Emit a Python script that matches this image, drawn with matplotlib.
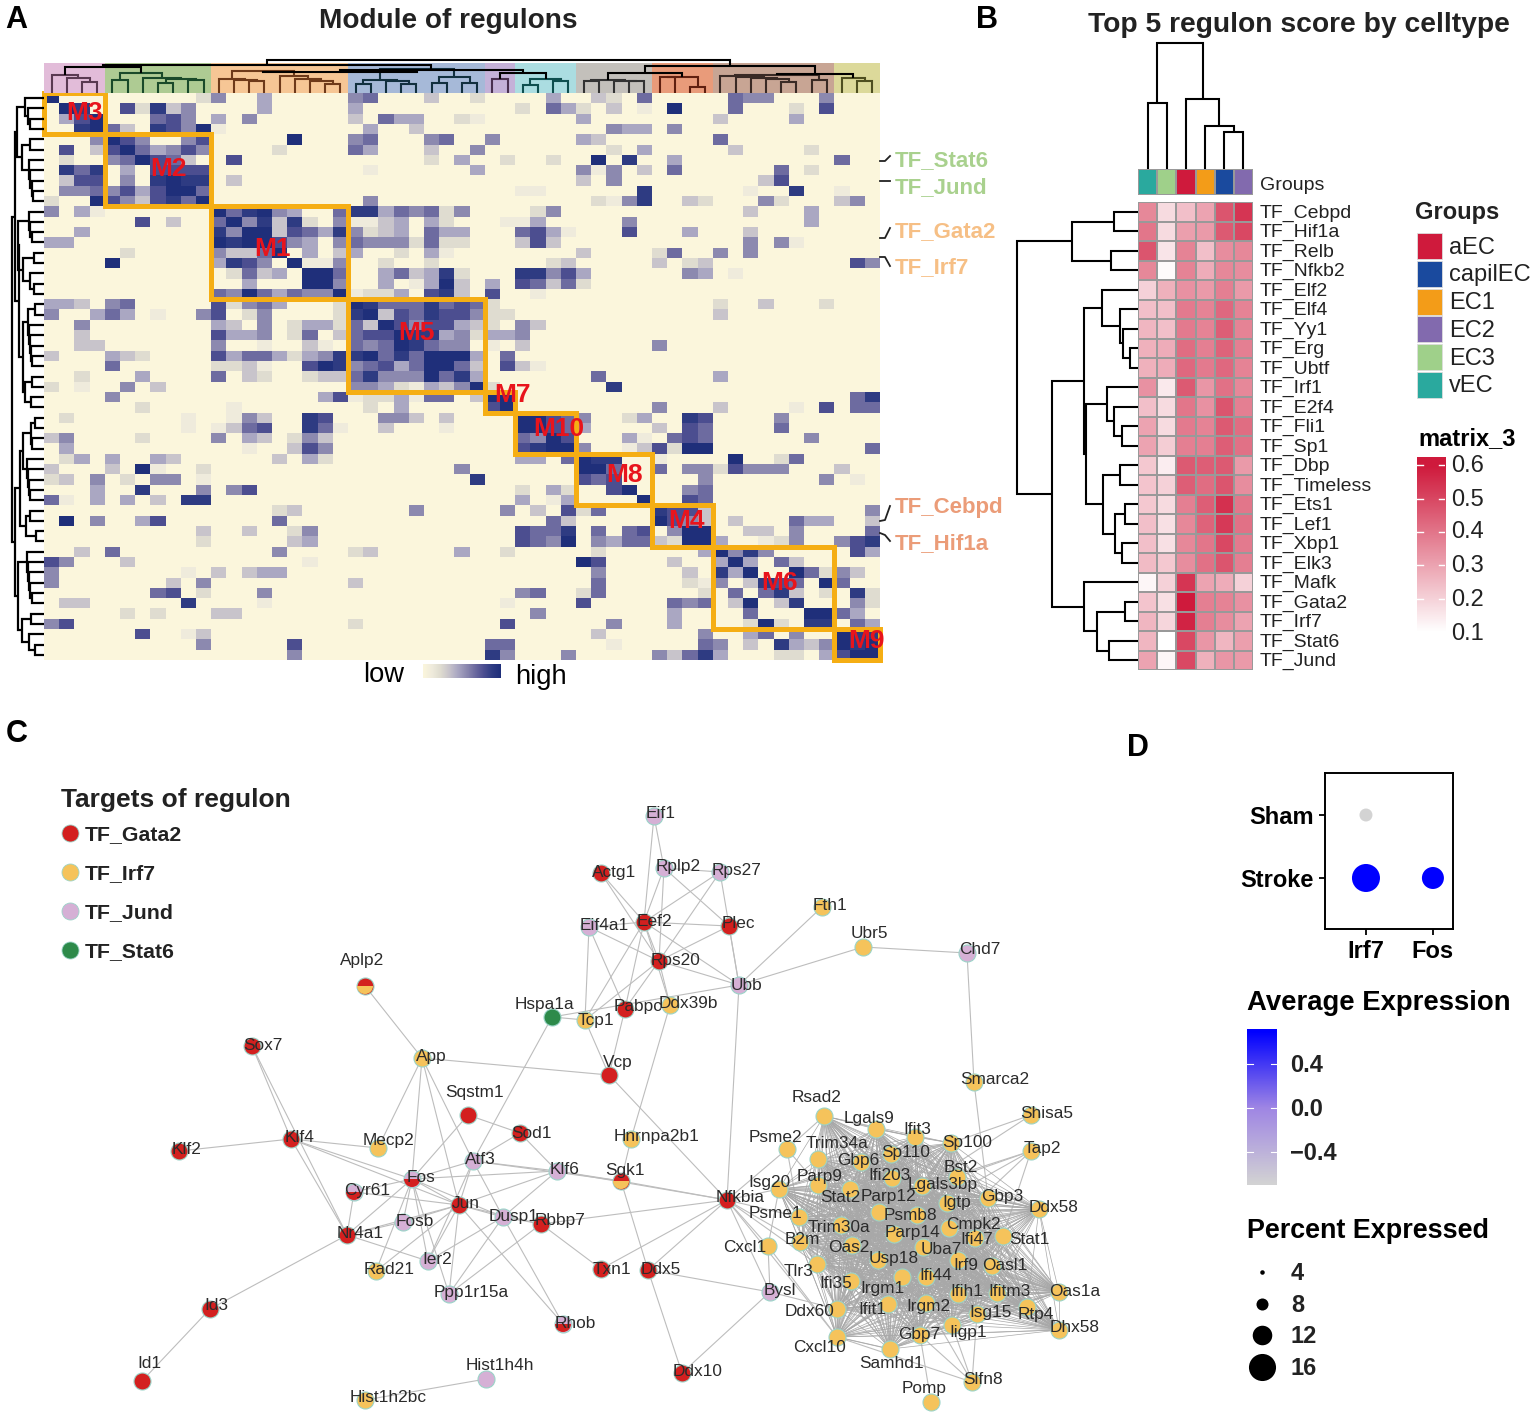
import itertools
import numpy as np
import matplotlib
matplotlib.use('Agg')
import matplotlib.pyplot as plt
from matplotlib.colors import LinearSegmentedColormap, ListedColormap
from matplotlib.patches import Rectangle, Wedge

plt.rcParams['font.family'] = ['Liberation Sans', 'DejaVu Sans']

W, H = 1535, 1417

# panel A: one dict per row, column -> shade level 1..9, everything else is background
module_cells = [
    {0:9,10:2,11:5,14:4,20:5,21:6,25:3,28:2,33:4,36:3,37:2,39:6,45:6,46:5,47:5,51:5},
    {1:9,2:8,5:7,6:2,7:8,8:3,9:5,14:4,20:4,31:2,33:6,34:4,35:2,37:3,39:1,41:9,45:6,49:2,51:7},
    {1:4,2:7,3:9,7:6,8:7,9:5,11:4,13:5,20:3,22:6,23:4,24:4,27:2,28:1,35:4,44:3,49:4},
    {2:8,3:9,4:6,5:3,7:8,8:7,9:5,10:9,11:1,21:4,24:3,37:5,38:4,39:4,41:5},
    {3:5,4:9,5:7,6:5,9:5,10:7,16:9,20:5,21:6,25:5,26:6,29:5,35:4,36:3,44:6},
    {1:7,3:3,4:7,5:9,6:6,7:4,8:5,9:7,10:5,15:2,20:6,21:4,25:3,28:5,37:2,39:4,45:3,50:2},
    {1:2,4:5,5:6,6:9,7:7,8:6,9:3,12:7,25:2,27:4,30:2,33:2,36:9,38:8,41:4,52:6},
    {1:8,2:6,3:8,5:4,7:7,8:7,9:7,10:7,21:1,28:4,35:5,36:1,37:5,39:3,41:6,48:6,50:2},
    {1:3,2:7,3:7,5:5,7:8,8:9,9:8,10:8,12:3,35:3,37:5,47:3,48:7},
    {1:5,2:5,3:6,4:5,5:7,6:4,7:7,8:9,9:9,10:6,31:1,32:1,39:8,46:1,49:8,52:1},
    {0:2,3:9,4:7,5:5,6:3,7:7,8:8,9:6,10:9,21:5,36:2,37:1,38:5,39:8,42:3,43:2,47:5,48:2,52:3,53:5},
    {0:5,2:4,3:1,11:9,12:6,13:8,14:9,15:5,16:4,19:6,20:8,21:8,22:4,23:6,24:5,25:6,26:2,27:5,32:2,33:5,46:3,50:4},
    {6:7,8:3,11:6,12:9,13:5,14:8,15:3,16:8,17:2,19:5,20:1,21:1,22:3,23:4,25:4,26:2,30:1,31:1,32:4,38:5,50:4},
    {2:4,11:8,12:5,13:9,14:9,15:3,16:7,17:6,18:4,19:8,20:5,21:2,22:3,23:4,25:6,26:4,27:4,31:6,32:7,33:4,34:1,38:7,42:4,46:3},
    {0:4,1:4,11:9,12:8,13:9,14:9,15:7,16:5,17:4,19:5,20:6,21:5,22:5,23:5,24:2,25:6,26:2,27:2,31:3,32:7,33:3,46:5,48:5,49:1},
    {5:2,11:5,12:3,13:3,14:6,15:9,17:4,19:3,20:4,23:2,25:4,26:1,35:3,40:2,41:6,44:5,46:5},
    {4:9,11:4,12:8,13:7,14:5,16:9,17:1,18:1,19:5,22:2,25:2,33:2,34:3,40:3,42:2,43:3,53:7,54:5},
    {12:2,13:6,14:3,15:4,17:9,18:9,19:6,22:4,23:6,24:3,25:4,26:8,27:2,31:8,32:8,33:5,34:7,35:4,42:5,43:4,45:1},
    {13:4,17:9,18:9,19:5,22:4,24:1,25:4,26:9,27:3,29:4,31:7,32:6,33:3,34:6,35:2},
    {11:6,12:5,13:9,14:6,15:4,16:6,17:5,18:5,19:9,20:1,21:2,22:2,23:4,25:7,26:8,27:3,29:7,32:1},
    {0:4,1:4,2:3,4:5,5:6,11:7,12:2,13:5,14:6,15:4,19:2,20:9,21:8,22:6,23:6,24:6,25:8,26:6,27:7,28:6,29:2,44:2,47:3,51:2},
    {0:5,3:4,4:6,5:4,7:1,10:5,11:7,13:2,14:5,19:2,20:8,21:9,22:3,23:7,24:6,25:8,26:7,27:7,28:5,29:2,30:2,44:3},
    {2:5,11:4,12:3,14:5,16:2,17:4,18:4,19:2,20:6,21:3,22:9,23:7,24:5,25:7,26:7,27:4,28:3,29:2,31:5,32:3},
    {2:3,11:7,12:4,13:4,14:5,16:2,17:6,19:3,20:6,21:7,22:7,23:9,24:8,25:8,26:4,27:5,28:2,29:4,30:4,31:5},
    {2:3,3:3,11:5,14:1,17:3,18:1,20:6,21:5,22:6,23:9,24:8,25:6,26:5,27:5,29:1,31:3,40:5},
    {0:3,4:4,5:3,6:2,11:7,12:4,13:6,14:6,15:4,16:2,17:4,18:5,19:8,20:8,21:9,22:6,23:8,24:6,25:9,26:9,27:9,28:4,30:6},
    {4:6,11:2,12:2,13:3,14:1,17:7,18:9,19:8,20:5,21:6,22:7,23:4,24:6,25:9,26:9,27:6,28:3,30:7,31:3,32:1},
    {2:2,6:4,11:6,13:3,14:2,17:2,18:3,19:3,20:6,21:8,22:5,23:5,24:5,25:9,26:6,27:8,28:4,36:6,44:4},
    {0:2,2:1,5:5,7:3,20:5,21:5,22:4,23:2,24:1,25:4,26:3,27:5,28:9,29:2,37:8},
    {4:5,18:4,19:7,20:1,21:2,22:2,23:4,24:1,25:6,26:6,28:3,29:9,30:9,53:6,54:8},
    {6:2,12:1,21:2,23:4,29:7,30:9,40:5,44:3,49:1,51:7,53:6,54:6},
    {1:2,9:1,12:1,13:5,14:3,17:8,18:7,22:5,23:5,24:3,26:3,31:9,32:9,33:7,34:6,35:5,38:2,39:4,42:8,43:7,48:5},
    {9:1,11:1,12:3,13:6,14:7,17:8,18:6,19:1,22:3,26:1,31:9,32:9,33:7,34:6,35:4,40:3,42:7,43:6,48:6},
    {0:3,1:5,6:2,11:5,13:4,14:3,16:2,17:5,18:3,31:6,32:5,33:9,34:7,38:4,39:1,41:6,42:7,43:6,50:5},
    {1:4,13:1,16:3,17:7,18:5,31:7,32:8,33:9,34:9,35:5,38:1,39:3,40:7,41:2,42:9,43:9,54:6},
    {1:2,2:4,4:4,7:4,8:3,15:3,17:4,18:2,31:4,32:4,34:6,35:9,36:8,37:8,40:1,45:9,48:2,49:6},
    {0:3,4:3,6:9,7:1,10:2,27:5,35:9,36:9,37:6,40:6,42:5,43:5,44:2,45:7,46:5,47:5,48:5,52:3},
    {0:2,1:3,3:5,5:2,7:5,8:5,10:1,28:8,35:7,36:6,37:7,43:5,51:5,53:1},
    {3:4,6:8,10:5,12:5,13:7,31:2,33:4,34:2,37:7,38:9,42:5,43:6},
    {0:6,1:1,3:4,5:4,7:3,9:8,10:8,31:4,33:1,34:4,39:9,42:7,43:6},
    {15:2,16:3,24:5,30:5,32:3,34:7,35:2,36:6,40:8,41:7,42:7,43:3,54:5},
    {1:9,3:5,6:4,7:7,15:6,33:6,34:3,40:9,41:7,42:5,43:3,45:3,49:6,50:4,51:4,54:3},
    {10:3,13:3,16:2,17:5,31:7,32:6,33:6,34:8,36:6,38:6,39:7,41:5,42:9,43:9,46:3,47:3,49:5,54:6},
    {10:2,16:3,17:4,31:7,32:6,33:5,34:9,36:5,37:4,38:6,39:6,40:3,41:2,42:9,43:9,44:4,47:1,48:2,49:5,52:5,53:7,54:8},
    {2:3,4:6,15:5,20:2,21:3,27:4,30:2,36:2,43:4,44:9,45:5,46:8,47:5,53:7,54:4},
    {0:7,1:5,5:3,17:1,35:9,36:7,41:3,44:4,45:9,46:4,48:6,49:3},
    {0:5,9:1,11:3,13:3,14:4,15:4,36:5,42:3,44:8,45:4,46:9,49:9,50:6,51:2,52:5,53:3},
    {0:5,8:3,10:5,20:3,36:6,42:2,43:1,44:5,46:3,47:8,48:7,49:6,51:9,52:6},
    {7:6,8:7,10:2,14:5,31:5,32:6,35:2,36:6,43:2,45:6,47:6,48:8,49:3,51:2,53:8,54:2},
    {1:3,2:3,9:8,14:1,30:1,35:7,41:6,42:5,43:6,45:3,46:9,48:3,49:8,53:5,54:2},
    {5:2,7:2,11:3,12:3,32:5,41:4,46:6,50:9,51:9,52:6,53:4},
    {0:5,1:7,20:2,30:7,37:5,41:4,46:2,47:9,48:2,50:8,51:8,53:6,54:4},
    {6:7,9:1,10:3,36:3,43:5,46:4,47:6,49:5,52:9,53:8,54:8},
    {10:5,16:7,29:6,30:6,37:1,43:6,44:5,46:3,48:8,49:4,50:3,51:5,52:9,53:8,54:9},
    {16:5,29:8,30:5,34:5,40:5,41:3,42:6,43:8,44:4,48:2,49:2,51:4,52:7,53:9,54:9},
]

module_names = ['M3', 'M2', 'M1', 'M5', 'M7', 'M10', 'M8', 'M4', 'M6', 'M9']
module_starts = [0, 4, 11, 20, 29, 31, 35, 40, 44, 52]
module_ends = [4, 11, 20, 29, 31, 35, 40, 44, 52, 55]
module_fill = ['#e2bcd9', '#aecb93', '#f6c695', '#a6b9d8', '#c4b1d8',
               '#abdde1', '#c3c0bb', '#e99b7a', '#c8a594', '#dcd99a']
module_line = ['#5a3a52', '#1a4a2a', '#6e3a1a', '#12303f', '#4a3050',
               '#0f4f4f', '#333333', '#602010', '#3a2a25', '#4f4f20']

# dendrograms: [height, left, right], leaves are cell indexes
pink_tree = [18, 0, [15, 1, [11, 2, 3]]]
green_tree = [20, [13, 4, 5], [15, 6, [14, [10, 7, 8], [13, 9, 10]]]]
orange_tree = [22, [14, 11, [13, 12, [12, 13, 14]]], [17, 15, [14, 16, [12, 17, [9, 18, 19]]]]]
blue_tree = [24, [13, [9, 20, 21], [12, 22, [9, 23, 24]]], [16, [10, 25, 26], [10, 27, 28]]]
purple_tree = [14, 29, 30]
cyan_tree = [14, [8, 31, 32], [12, 33, 34]]
grey_tree = [13, [12, 35, 36], [12, 37, [12, 38, 39]]]
salmon_tree = [16, [16, 40, 41], [6, 42, 43]]
brown_tree = [18, [17, 44, [16, 45, [15, 46, [14, 47, [11, 48, 49]]]]], [13, 50, 51]]
khaki_tree = [15, 52, [12, 53, 54]]
module_top_tree = [33,
                   [28, [26, pink_tree, green_tree],
                    [23, [21, orange_tree, blue_tree], [20, purple_tree, cyan_tree]]],
                   [27, [20, grey_tree, salmon_tree], [19, brown_tree, khaki_tree]]]

row_t0 = [19, 0, [16, 1, [14, 2, 3]]]
row_t1 = [22, [14, 4, 5], [15, 6, [14, 7, [12, 8, [11, 9, 10]]]]]
row_t2 = [26, [15, 11, [14, 12, [12, 13, 14]]], [21, [10, 15, 16], [14, 17, [10, 18, 19]]]]
row_t3 = [21, [16, [9, 20, 21], [15, 22, [14, 23, [13, 24, [12, 25, 26]]]]], [19, [12, 27, 28], [13, 29, 30]]]
row_t4 = [21, [13, [9, 31, 32], [12, 33, 34]], [17, 35, [16, 36, [15, 37, [14, 38, 39]]]]]
row_t5 = [18, [14, 40, 41], [8, 42, 43]]
row_t6 = [17, 44, [16, 45, [15, 46, [14, 47, [12, 48, 49]]]]]
row_t7 = [22, [13, 50, 51], [15, 52, [9, 53, 54]]]
module_row_tree = [32, [29, [27, row_t0, row_t1], [25, row_t2, row_t3]],
                   [29, [24, row_t4, row_t5], [26, row_t6, row_t7]]]

a_tf_labels = ['TF_Stat6', 'TF_Jund', 'TF_Gata2', 'TF_Irf7', 'TF_Cebpd', 'TF_Hif1a']
a_tf_colors = ['#a9d18e', '#a9d18e', '#f6bf85', '#f6bf85', '#eb9c78', '#eb9c78']

# panel B
score_rows = ['TF_Cebpd', 'TF_Hif1a', 'TF_Relb', 'TF_Nfkb2', 'TF_Elf2', 'TF_Elf4', 'TF_Yy1', 'TF_Erg',
              'TF_Ubtf', 'TF_Irf1', 'TF_E2f4', 'TF_Fli1', 'TF_Sp1', 'TF_Dbp', 'TF_Timeless', 'TF_Ets1',
              'TF_Lef1', 'TF_Xbp1', 'TF_Elk3', 'TF_Mafk', 'TF_Gata2', 'TF_Irf7', 'TF_Stat6', 'TF_Jund']
score_cols = ['vEC', 'EC3', 'aEC', 'EC1', 'capilEC', 'EC2']
score_vals = [
    [.36, .18, .24, .30, .47, .54],
    [.40, .18, .31, .32, .46, .50],
    [.47, .16, .37, .24, .35, .36],
    [.36, .11, .37, .28, .36, .35],
    [.20, .27, .34, .32, .38, .32],
    [.24, .24, .39, .37, .43, .37],
    [.26, .24, .39, .37, .45, .37],
    [.27, .28, .42, .38, .44, .38],
    [.27, .28, .43, .39, .43, .37],
    [.34, .15, .46, .33, .41, .36],
    [.24, .18, .40, .34, .47, .38],
    [.30, .18, .39, .37, .46, .42],
    [.30, .21, .38, .38, .45, .41],
    [.22, .14, .46, .45, .46, .32],
    [.23, .20, .45, .42, .47, .35],
    [.22, .18, .38, .45, .55, .40],
    [.24, .17, .36, .44, .53, .41],
    [.24, .17, .36, .40, .50, .39],
    [.25, .22, .35, .41, .47, .38],
    [.12, .20, .54, .30, .28, .20],
    [.23, .17, .60, .38, .37, .34],
    [.26, .19, .58, .38, .35, .30],
    [.26, .10, .50, .33, .26, .31],
    [.30, .12, .50, .27, .33, .32],
]
group_names = ['aEC', 'capilEC', 'EC1', 'EC2', 'EC3', 'vEC']
group_colors = {'aEC': '#cf1a3c', 'capilEC': '#1a4a9e', 'EC1': '#f39c18',
                'EC2': '#826aae', 'EC3': '#9fd08a', 'vEC': '#2aa99e'}
score_ticks = [0.6, 0.5, 0.4, 0.3, 0.2, 0.1]

score_col_tree = [126, [66, 0, 1], [70, 2, [43, 3, [37, 4, 5]]]]
score_row_tree = [121, [66, [24, 0, 1], [27, 2, 3]],
                  [86, [54, [36, 4, [18, 5, [15, 6, [8, 7, 8]]]],
                        [52, [31, 9, [24, 10, [16, 11, 12]]],
                         [35, [18, 13, 14], [23, [13, 15, 16], [16, 17, 18]]]]],
                   [54, 19, [41, [13, 20, 21], [29, 22, 23]]]]]

# panel C: force layout, in pixels of the figure
node_pos = {
    'Eif1': (654, 816), 'Actg1': (601, 873), 'Rplp2': (664, 868), 'Rps27': (720, 872), 'Eif4a1': (589, 927),
    'Eef2': (644, 922), 'Plec': (729, 926), 'Fth1': (822, 907), 'Rps20': (659, 961), 'Ubr5': (863, 947),
    'Chd7': (967, 953), 'Ubb': (739, 985), 'Aplp2': (365, 986), 'Hspa1a': (552, 1017), 'Tcp1': (585, 1020),
    'Pabpc': (625, 1009), 'Ddx39b': (670, 1005), 'Sox7': (252, 1046), 'App': (422, 1058), 'Vcp': (609, 1075),
    'Sqstm1': (468, 1115), 'Sod1': (520, 1133), 'Hnrnpa2b1': (631, 1139), 'Mecp2': (378, 1148), 'Klf2': (179, 1151),
    'Klf4': (291, 1139), 'Atf3': (473, 1161), 'Klf6': (557, 1171), 'Sgk1': (621, 1181), 'Fos': (412, 1179),
    'Cyr61': (354, 1192), 'Jun': (459, 1205), 'Dusp1': (503, 1217), 'Rbbp7': (541, 1224), 'Fosb': (403, 1222),
    'Nr4a1': (347, 1235), 'Ier2': (428, 1261), 'Rad21': (376, 1271), 'Ppp1r15a': (449, 1294), 'Txn1': (601, 1269),
    'Ddx5': (648, 1270), 'Rhob': (563, 1324), 'Id3': (210, 1309), 'Id1': (142, 1381), 'Ddx10': (682, 1373),
    'Hist1h4h': (486, 1379), 'Hist1h2bc': (365, 1400), 'Nfkbia': (727, 1200), 'Bysl': (770, 1292),
    'Smarca2': (974, 1082), 'Shisa5': (1031, 1115), 'Tap2': (1031, 1151), 'Rsad2': (824, 1116), 'Lgals9': (876, 1129),
    'Ifit3': (915, 1137), 'Sp100': (951, 1143), 'Psme2': (787, 1149), 'Trim34a': (818, 1159), 'Gbp6': (861, 1162),
    'Sp110': (891, 1154), 'Ifi203': (892, 1178), 'Bst2': (957, 1177), 'Lgals3bp': (922, 1186), 'Parp9': (818, 1185),
    'Stat2': (850, 1189), 'Isg20': (779, 1189), 'Igtp': (947, 1203), 'Gbp3': (988, 1198), 'Ddx58': (1039, 1209),
    'Parp12': (879, 1212), 'Psmb8': (917, 1215), 'Psme1': (799, 1217), 'Cmpk2': (949, 1228), 'Stat1': (1003, 1236),
    'Trim30a': (841, 1225), 'Parp14': (894, 1234), 'B2m': (800, 1242), 'Oas2': (852, 1245), 'Ifi47': (975, 1238),
    'Uba7': (923, 1247), 'Cxcl1': (768, 1246), 'Usp18': (878, 1260), 'Irf9': (958, 1260), 'Oasl1': (992, 1266),
    'Tlr3': (817, 1264), 'Ifi44': (926, 1277), 'Ifi35': (851, 1281), 'Irgm1': (902, 1277), 'Ifih1': (958, 1294),
    'Ifitm3': (997, 1293), 'Oas1a': (1059, 1292), 'Ddx60': (837, 1309), 'Ifit1': (888, 1304), 'Irgm2': (926, 1303),
    'Isg15': (977, 1314), 'Rtp4': (1027, 1307), 'Dhx58': (1059, 1330), 'Iigp1': (952, 1325), 'Gbp7': (920, 1335),
    'Cxcl10': (837, 1337), 'Samhd1': (890, 1349), 'Slfn8': (972, 1382), 'Pomp': (931, 1402),
}
label_pos = {
    'Eif1': (661, 813), 'Actg1': (614, 872), 'Rplp2': (678, 865), 'Rps27': (737, 870), 'Eif4a1': (604, 925),
    'Eef2': (654, 920), 'Plec': (738, 923), 'Fth1': (830, 905), 'Rps20': (675, 959), 'Ubr5': (869, 932),
    'Chd7': (980, 949), 'Ubb': (747, 984), 'Aplp2': (362, 959), 'Hspa1a': (544, 1004), 'Tcp1': (596, 1019),
    'Pabpc': (638, 1006), 'Ddx39b': (688, 1003), 'Sox7': (263, 1044), 'App': (431, 1056), 'Vcp': (618, 1062),
    'Sqstm1': (474, 1091), 'Sod1': (531, 1132), 'Hnrnpa2b1': (657, 1136), 'Mecp2': (389, 1140), 'Klf2': (187, 1149),
    'Klf4': (300, 1137), 'Atf3': (480, 1159), 'Klf6': (565, 1169), 'Sgk1': (625, 1170), 'Fos': (421, 1177),
    'Cyr61': (367, 1190), 'Jun': (466, 1203), 'Dusp1': (514, 1215), 'Rbbp7': (560, 1220), 'Fosb': (415, 1220),
    'Nr4a1': (360, 1233), 'Ier2': (437, 1259), 'Rad21': (389, 1269), 'Ppp1r15a': (471, 1292), 'Txn1': (612, 1268),
    'Ddx5': (661, 1268), 'Rhob': (575, 1322), 'Id3': (216, 1305), 'Id1': (149, 1362), 'Ddx10': (698, 1370),
    'Hist1h4h': (500, 1364), 'Hist1h2bc': (388, 1397), 'Nfkbia': (740, 1196), 'Bysl': (780, 1289),
    'Smarca2': (995, 1078), 'Shisa5': (1047, 1112), 'Tap2': (1042, 1148), 'Rsad2': (817, 1097), 'Lgals9': (869, 1117),
    'Ifit3': (917, 1129), 'Sp100': (967, 1141), 'Psme2': (775, 1137), 'Trim34a': (837, 1143), 'Gbp6': (858, 1160),
    'Sp110': (906, 1152), 'Ifi203': (890, 1175), 'Bst2': (961, 1167), 'Lgals3bp': (943, 1183), 'Parp9': (820, 1175),
    'Stat2': (840, 1196), 'Isg20': (769, 1181), 'Igtp': (957, 1201), 'Gbp3': (1002, 1196), 'Ddx58': (1054, 1206),
    'Parp12': (889, 1195), 'Psmb8': (910, 1215), 'Psme1': (775, 1213), 'Cmpk2': (973, 1223), 'Stat1': (1029, 1239),
    'Trim30a': (839, 1227), 'Parp14': (912, 1232), 'B2m': (802, 1238), 'Oas2': (849, 1246), 'Ifi47': (977, 1238),
    'Uba7': (941, 1248), 'Cxcl1': (745, 1247), 'Usp18': (894, 1258), 'Irf9': (966, 1265), 'Oasl1': (1005, 1264),
    'Tlr3': (798, 1271), 'Ifi44': (936, 1275), 'Ifi35': (836, 1283), 'Irgm1': (883, 1287), 'Ifih1': (967, 1291),
    'Ifitm3': (1010, 1291), 'Oas1a': (1075, 1290), 'Ddx60': (810, 1310), 'Ifit1': (872, 1308), 'Irgm2': (928, 1306),
    'Isg15': (991, 1311), 'Rtp4': (1036, 1313), 'Dhx58': (1075, 1327), 'Iigp1': (968, 1331), 'Gbp7': (919, 1333),
    'Cxcl10': (819, 1346), 'Samhd1': (891, 1362), 'Slfn8': (983, 1379), 'Pomp': (924, 1388),
}

gata2_targets = ['Actg1', 'Eef2', 'Plec', 'Rps20', 'Pabpc', 'Vcp', 'Sqstm1', 'Sod1', 'Klf2', 'Klf4', 'Sox7', 'Jun',
                 'Rbbp7', 'Nr4a1', 'Txn1', 'Ddx5', 'Id3', 'Id1', 'Ddx10', 'Nfkbia', 'Aplp2', 'Sgk1']
jund_targets = ['Eif1', 'Rplp2', 'Rps27', 'Eif4a1', 'Chd7', 'Ubb', 'Atf3', 'Klf6', 'Fos', 'Cyr61', 'Dusp1', 'Fosb',
                'Ier2', 'Ppp1r15a', 'Rhob', 'Hist1h4h', 'Bysl']
stat6_targets = ['Hspa1a']
# two regulons: top half / bottom half
split_nodes = {'Aplp2': 'TF_Irf7', 'Sgk1': 'TF_Irf7', 'Fos': 'TF_Gata2', 'Cyr61': 'TF_Gata2', 'Rhob': 'TF_Gata2'}

regulon_names = ['TF_Gata2', 'TF_Irf7', 'TF_Jund', 'TF_Stat6']
regulon_colors = {'TF_Gata2': '#d3201f', 'TF_Irf7': '#f5c35b', 'TF_Jund': '#d5b0d5', 'TF_Stat6': '#2d8a4a'}

other_edges = [
    ('Eif1', 'Rplp2'), ('Eif1', 'Eef2'), ('Actg1', 'Eef2'), ('Actg1', 'Rps20'), ('Rplp2', 'Eef2'), ('Rplp2', 'Rps20'),
    ('Rplp2', 'Rps27'), ('Rplp2', 'Plec'), ('Rps27', 'Eef2'), ('Rps27', 'Rps20'), ('Rps27', 'Ubb'), ('Eif4a1', 'Eef2'),
    ('Eif4a1', 'Rps20'), ('Eif4a1', 'Tcp1'), ('Eif4a1', 'Pabpc'), ('Eef2', 'Rps20'), ('Eef2', 'Plec'), ('Eef2', 'Tcp1'),
    ('Eef2', 'Pabpc'), ('Eef2', 'Ddx39b'), ('Eef2', 'Ubb'), ('Plec', 'Ubb'), ('Plec', 'Rps20'), ('Rps20', 'Tcp1'),
    ('Rps20', 'Pabpc'), ('Rps20', 'Ddx39b'), ('Rps20', 'Ubb'), ('Fth1', 'Ubb'), ('Ubr5', 'Ubb'), ('Ubr5', 'Chd7'),
    ('Chd7', 'Smarca2'), ('Ubb', 'Nfkbia'), ('Ubb', 'Hspa1a'), ('Hspa1a', 'Atf3'), ('Hspa1a', 'Tcp1'), ('Tcp1', 'Vcp'),
    ('Pabpc', 'Vcp'), ('Aplp2', 'App'), ('App', 'Vcp'), ('App', 'Mecp2'), ('App', 'Atf3'), ('App', 'Fos'), ('App', 'Jun'),
    ('Sox7', 'Klf4'), ('Sox7', 'Nr4a1'), ('Klf2', 'Klf4'), ('Klf4', 'Mecp2'), ('Klf4', 'Nr4a1'), ('Klf4', 'Jun'),
    ('Klf4', 'Fos'), ('Sqstm1', 'Sod1'), ('Sqstm1', 'Fos'), ('Sod1', 'Atf3'), ('Sod1', 'Klf6'), ('Vcp', 'Nfkbia'),
    ('Hnrnpa2b1', 'Ddx39b'), ('Hnrnpa2b1', 'Sgk1'), ('Sgk1', 'Klf6'), ('Sgk1', 'Nfkbia'), ('Sgk1', 'Ddx5'),
    ('Sgk1', 'Atf3'), ('Atf3', 'Fos'), ('Atf3', 'Jun'), ('Atf3', 'Dusp1'), ('Atf3', 'Klf6'), ('Atf3', 'Ier2'),
    ('Klf6', 'Fos'), ('Klf6', 'Jun'), ('Klf6', 'Dusp1'), ('Klf6', 'Nfkbia'), ('Fos', 'Jun'), ('Fos', 'Fosb'),
    ('Fos', 'Nr4a1'), ('Fos', 'Cyr61'), ('Fos', 'Ier2'), ('Fos', 'Dusp1'), ('Fos', 'Ppp1r15a'), ('Fos', 'Rad21'),
    ('Jun', 'Fosb'), ('Jun', 'Nr4a1'), ('Jun', 'Ier2'), ('Jun', 'Dusp1'), ('Jun', 'Cyr61'), ('Jun', 'Rbbp7'),
    ('Jun', 'Rad21'), ('Jun', 'Ppp1r15a'), ('Jun', 'Rhob'), ('Cyr61', 'Nr4a1'), ('Nr4a1', 'Fosb'), ('Nr4a1', 'Ier2'),
    ('Nr4a1', 'Id3'), ('Id3', 'Id1'), ('Ier2', 'Dusp1'), ('Dusp1', 'Rbbp7'), ('Dusp1', 'Rhob'), ('Dusp1', 'Ppp1r15a'),
    ('Rbbp7', 'Nfkbia'), ('Rbbp7', 'Txn1'), ('Rbbp7', 'Ppp1r15a'), ('Txn1', 'Nfkbia'), ('Ddx5', 'Nfkbia'),
    ('Ddx5', 'Bysl'), ('Ddx10', 'Bysl'), ('Ddx5', 'Ddx10'), ('Hist1h4h', 'Hist1h2bc'), ('Bysl', 'Nfkbia'),
    ('Bysl', 'Cxcl1'), ('Bysl', 'Ddx60'), ('Nfkbia', 'Psme2'), ('Nfkbia', 'Isg20'), ('Nfkbia', 'Psme1'), ('Nfkbia', 'B2m'),
    ('Nfkbia', 'Cxcl1'), ('Nfkbia', 'Cxcl10'), ('Nfkbia', 'Tlr3'), ('Smarca2', 'Gbp3'), ('Shisa5', 'Sp100'),
    ('Shisa5', 'Lgals3bp'), ('Tap2', 'Bst2'), ('Tap2', 'Lgals3bp'), ('Tap2', 'Stat1'), ('Tap2', 'Psmb8'), ('Tap2', 'Cmpk2'),
    ('Pomp', 'Gbp7'), ('Slfn8', 'Iigp1'), ('Slfn8', 'Gbp7'), ('Slfn8', 'Irgm2'), ('Slfn8', 'Cxcl10'), ('Slfn8', 'Isg15'),
    ('Psme2', 'Psme1'), ('Psme2', 'Rsad2'), ('Psme2', 'Parp9'), ('Cxcl1', 'Cxcl10'), ('Cxcl1', 'Isg20'), ('Samhd1', 'Cxcl10'),
]
# the interferon block is connected nearly all to all
interferon_genes = ['Rsad2', 'Lgals9', 'Ifit3', 'Sp100', 'Trim34a', 'Gbp6', 'Sp110', 'Ifi203', 'Bst2', 'Lgals3bp',
                    'Parp9', 'Stat2', 'Isg20', 'Igtp', 'Gbp3', 'Ddx58', 'Parp12', 'Psmb8', 'Psme1', 'Cmpk2', 'Stat1',
                    'Trim30a', 'Parp14', 'B2m', 'Oas2', 'Ifi47', 'Uba7', 'Usp18', 'Irf9', 'Oasl1', 'Tlr3', 'Ifi44',
                    'Ifi35', 'Irgm1', 'Ifih1', 'Ifitm3', 'Oas1a', 'Ddx60', 'Ifit1', 'Irgm2', 'Isg15', 'Rtp4', 'Dhx58',
                    'Iigp1', 'Gbp7', 'Cxcl10', 'Samhd1']

# panel D
dot_genes = ['Irf7', 'Fos']
dot_groups = ['Stroke', 'Sham']
dot_gene = ['Irf7', 'Irf7', 'Fos']
dot_group = ['Sham', 'Stroke', 'Stroke']
dot_pct = [8.5, 16.5, 13.3]
dot_avg = [-0.7, 0.7, 0.7]
avg_ticks = [0.4, 0.0, -0.4]
pct_ticks = [4, 8, 12, 16]

module_cmap = LinearSegmentedColormap.from_list(
    'module', ['#fbf6dc', '#efebdc', '#dfdcd0', '#c8c4cb', '#aaa7c2', '#8d8ab0', '#6d6ba0', '#4d4f91', '#2f3c83', '#1f2f7a'])
score_cmap = LinearSegmentedColormap.from_list('score', ['#ffffff', '#cf1a3c'])
expr_cmap = LinearSegmentedColormap.from_list('expr', ['#d3d3d3', '#9f86e4', '#0000ff'])

fig = plt.figure(figsize=(W / 100, H / 100), dpi=100)


def px_axes(x0, y0, x1, y1, z=1):
    ax = fig.add_axes([x0 / W, 1 - y1 / H, (x1 - x0) / W, (y1 - y0) / H], zorder=z)
    return ax


def leaves(node):
    if isinstance(node, int):
        return [node]
    return leaves(node[1]) + leaves(node[2])


def draw_tree(ax, node, side, colour_for, lw):
    if isinstance(node, int):
        return node + 0.5, 0
    c1, h1 = draw_tree(ax, node[1], side, colour_for, lw)
    c2, h2 = draw_tree(ax, node[2], side, colour_for, lw)
    h = node[0]
    xs, ys = [c1, c1, c2, c2], [h1, h, h, h2]
    if side == 'left':
        xs, ys = ys, xs
    ax.plot(xs, ys, color=colour_for(node), lw=lw, clip_on=False, solid_joinstyle='miter', solid_capstyle='butt')
    return (c1 + c2) / 2, h


def module_colour(node):
    ids = leaves(node)
    for s, e, c in zip(module_starts, module_ends, module_line):
        if s <= min(ids) and max(ids) < e:
            return c
    return 'black'


def black(node):
    return 'black'


def percent_radius(pct):
    return 0.94 * np.asarray(pct) - 1.5


def radius_to_size(r):
    return (2 * np.asarray(r) * 0.72) ** 2


# overlay in figure pixels
ov = px_axes(0, 0, W, H, z=5)
ov.set_xlim(0, W)
ov.set_ylim(H, 0)
ov.axis('off')
ov.patch.set_alpha(0)


def label(x, y, s, **kw):
    # centre of the glyphs sits a little under the box centre
    ov.text(x, y + 1.5, s, va='center', **kw)


for txt, x, y in [('A', 5, 18), ('B', 976, 18), ('C', 6, 733), ('D', 1127, 747)]:
    label(x, y, txt, fontsize=22, fontweight='bold')

# ---- A
label(448, 20, 'Module of regulons', fontsize=20.2, fontweight='bold', ha='center', color='#222222')
module_mat = np.zeros((55, 55))
for r, row in enumerate(module_cells):
    for c, level in row.items():
        module_mat[r, c] = level

ax = px_axes(44, 93, 880, 660)
ax.imshow(module_mat, cmap=module_cmap, vmin=0, vmax=9, aspect='auto', interpolation='nearest', extent=(0, 55, 55, 0))
ax.axis('off')
for name, s, e in zip(module_names, module_starts, module_ends):
    ax.add_patch(Rectangle((s, s), e - s, e - s, fill=False, ec='#f5ae14', lw=3.6, clip_on=False, zorder=4))

ax = px_axes(44, 63, 880, 93)
for s, e, c in zip(module_starts, module_ends, module_fill):
    ax.axvspan(s, e, color=c, lw=0)
ax.set_xlim(0, 55)
ax.set_ylim(0, 30)
ax.axis('off')
draw_tree(ax, module_top_tree, 'top', module_colour, 1.5)

ax = px_axes(0, 93, 44, 660)
ax.set_xlim(44, 0)
ax.set_ylim(55, 0)
ax.axis('off')
draw_tree(ax, module_row_tree, 'left', black, 1.6)

for name, x, y in zip(module_names, [85, 168, 272, 416, 513, 559, 625, 686, 780, 866],
                      [111, 167, 248, 332, 393, 428, 474, 520, 582, 640]):
    label(x, y, name, color='#e8141c', fontsize=19, fontweight='bold', ha='center')

for name, col, y, tick in zip(a_tf_labels, a_tf_colors, [159, 186, 230, 266, 506, 542],
                              [(161, 161, 156), (181, 181, 181), (238, 238, 228),
                               (257, 257, 266), (521, 520, 506), (533, 535, 541)]):
    label(895, y, name, color=col, fontsize=16, fontweight='bold')
    ov.plot([880, 885, 890], tick, color='#222222', lw=1.3)

label(363, 673, 'low', fontsize=19.7)
label(515, 676, 'high', fontsize=19.7)
ax = px_axes(423, 664, 501, 678)
ax.imshow(np.linspace(0, 1, 100)[None, :], cmap=module_cmap, aspect='auto')
ax.axis('off')

# ---- B
label(1299, 23, 'Top 5 regulon score by celltype', fontsize=20.3, fontweight='bold', ha='center', color='#222222')
ax = px_axes(1138, 202, 1253, 670)
ax.pcolormesh(np.array(score_vals), cmap=score_cmap, vmin=0.1, vmax=0.6, edgecolors='#999999', linewidth=1.4)
ax.set_ylim(24, 0)
ax.axis('off')
for i, name in enumerate(score_rows):
    label(1260, 202 + 19.5 * (i + 0.5), name, fontsize=14, color='#222222')

ax = px_axes(1138, 169, 1253, 195)
strip = ListedColormap([group_colors[c] for c in score_cols])
ax.pcolormesh(np.arange(6)[None, :], cmap=strip, edgecolors='#999999', linewidth=1.4)
ax.axis('off')
label(1260, 184, 'Groups', fontsize=14, color='#222222')

ax = px_axes(1138, 42, 1253, 169)
ax.set_xlim(0, 6)
ax.set_ylim(0, 127)
ax.axis('off')
draw_tree(ax, score_col_tree, 'top', black, 1.5)

ax = px_axes(1010, 202, 1138, 670)
ax.set_xlim(128, 0)
ax.set_ylim(24, 0)
ax.axis('off')
draw_tree(ax, score_row_tree, 'left', black, 1.5)

label(1415, 211, 'Groups', fontsize=17, fontweight='bold', color='#222222')
for i, name in enumerate(group_names):
    y = 246 + 27.8 * i
    ov.add_patch(Rectangle((1417, y - 13), 25, 26, fc=group_colors[name], ec='#dddddd', lw=0.6))
    label(1449, y, name, fontsize=17, color='#222222')

label(1418, 437, 'matrix_3', fontsize=17, fontweight='bold')
ax = px_axes(1417, 457, 1445, 637)
ax.imshow(np.linspace(0.085, 0.625, 200)[:, None], cmap=score_cmap, vmin=0.1, vmax=0.6, aspect='auto', origin='lower',
          extent=(0, 1, 0.085, 0.625))
for t in score_ticks[:-1]:
    ax.plot([0, 0.2], [t, t], color='white', lw=1)
    ax.plot([0.8, 1], [t, t], color='white', lw=1)
ax.set_xlim(0, 1)
ax.set_ylim(0.085, 0.625)
ax.axis('off')
for t, y in zip(score_ticks, [465, 498, 531, 565, 599, 632]):
    label(1451, y, f'{t:.1f}', fontsize=17, color='#222222')

# ---- C
for a, b in other_edges:
    ov.plot([node_pos[a][0], node_pos[b][0]], [node_pos[a][1], node_pos[b][1]], color='#bdbdbd', lw=0.8, zorder=1)
for a, b in itertools.combinations(interferon_genes, 2):
    ov.plot([node_pos[a][0], node_pos[b][0]], [node_pos[a][1], node_pos[b][1]], color='#a8a8a8', lw=0.5, zorder=1)

for name, (x, y) in node_pos.items():
    if name in gata2_targets:
        reg = 'TF_Gata2'
    elif name in jund_targets:
        reg = 'TF_Jund'
    elif name in stat6_targets:
        reg = 'TF_Stat6'
    else:
        reg = 'TF_Irf7'
    ov.scatter([x], [y], s=radius_to_size(8.5), color=regulon_colors[reg], edgecolors='#9ad4c8', linewidths=0.8, zorder=2)
    if name in split_nodes:
        # y axis runs downwards, so 0..180 degrees is the lower half
        ov.add_patch(Wedge((x, y), 8, 0, 180, fc=regulon_colors[split_nodes[name]], ec='none', zorder=2.5))
    lx, ly = label_pos[name]
    ov.text(lx, ly + 1, name, fontsize=12.4, color='#2b2b2b', ha='center', va='center', zorder=3)

label(61, 798, 'Targets of regulon', fontsize=19, fontweight='bold', color='#222222')
for i, name in enumerate(regulon_names):
    y = 833 + 39 * i
    ov.scatter([70], [y], s=radius_to_size(8.5), color=regulon_colors[name], edgecolors='#9ad4c8', linewidths=0.6)
    label(85, y, name, fontsize=15.3, fontweight='bold', color='#222222')

# ---- D
ax = px_axes(1325, 773, 1453, 929)
gene_idx = [dot_genes.index(g) for g in dot_gene]
group_idx = [dot_groups.index(g) for g in dot_group]
ax.scatter(gene_idx, group_idx, s=radius_to_size(percent_radius(dot_pct)), c=dot_avg, cmap=expr_cmap, vmin=-0.7, vmax=0.7,
           linewidths=0)
ax.set_xlim(-0.612, 1.3)
ax.set_ylim(-0.81, 1.667)
ax.set_xticks(range(2), dot_genes, fontsize=17, fontweight='bold')
ax.set_yticks(range(2), dot_groups, fontsize=17, fontweight='bold')
ax.tick_params(length=4.5, width=1.3, pad=3.5)
for sp in ax.spines.values():
    sp.set_linewidth(1.4)

label(1247, 1002, 'Average Expression', fontsize=19.8, fontweight='bold')
ax = px_axes(1247, 1029, 1277, 1185)
ax.imshow(np.linspace(-0.7, 0.718, 200)[:, None], cmap=expr_cmap, vmin=-0.7, vmax=0.7, aspect='auto', origin='lower',
          extent=(0, 1, -0.7, 0.718))
for t in avg_ticks:
    ax.plot([0, 0.2], [t, t], color='white', lw=0.8)
    ax.plot([0.8, 1], [t, t], color='white', lw=0.8)
ax.set_xlim(0, 1)
ax.set_ylim(-0.7, 0.718)
ax.axis('off')
for t, y in zip(avg_ticks, [1064, 1108, 1152]):
    lab = f'{t:.1f}'.replace('-', '\u2212')
    label(1290, y, lab, fontsize=17, fontweight='bold', color='#222222')

label(1247, 1229, 'Percent Expressed', fontsize=19.4, fontweight='bold')
for p, y in zip(pct_ticks, [1272, 1304, 1335, 1367]):
    ov.scatter([1262], [y], s=radius_to_size(percent_radius(p)), color='black', linewidths=0)
    label(1291, y, str(p), fontsize=17, fontweight='bold', color='#222222')

ov.set_xlim(0, W)
ov.set_ylim(H, 0)
fig.savefig('out.png', dpi=100)
